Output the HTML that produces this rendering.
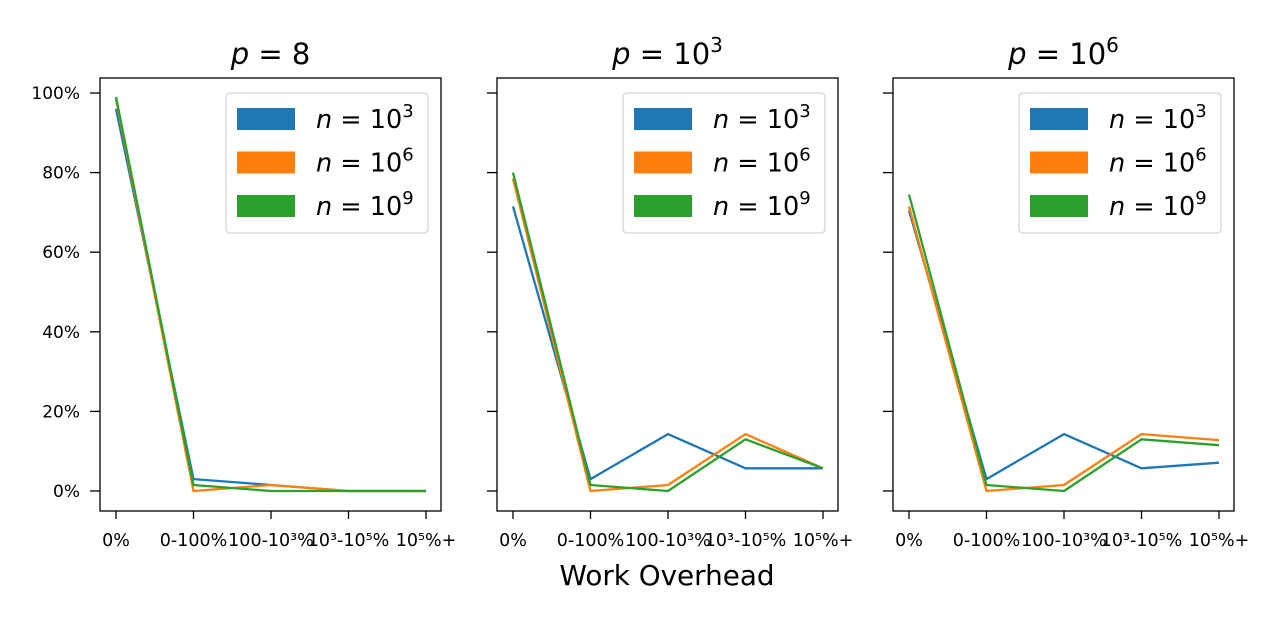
<!DOCTYPE html>
<html><head><meta charset="utf-8"><style>
body{margin:0;background:#fff;}
svg{display:block;font-family:"DejaVu Sans","Liberation Sans",sans-serif;}
</style></head><body>
<svg id="chart" width="1280" height="620" viewBox="0 0 1280 620" xmlns="http://www.w3.org/2000/svg"></svg>
<script>
const categories = ["0%", "0-100%", "100-10³%", "10³-10⁵%", "10⁵%+"];
const panelTitles = ["8", "10", "10"];
const panelTitleSup = ["", "3", "6"];
const seriesNames = ["3", "6", "9"];
const yTicks = [0, 20, 40, 60, 80, 100];
const p1Blue = [96, 3, 1.5, 0, 0];
const p1Orange = [98.5, 0, 1.5, 0, 0];
const p1Green = [99, 1.5, 0, 0, 0];
const p2Blue = [71.5, 3, 14.3, 5.7, 5.7];
const p2Orange = [78.5, 0, 1.5, 14.3, 5.7];
const p2Green = [80, 1.5, 0, 13, 5.7];
const p3Blue = [70.5, 3, 14.3, 5.7, 7.1];
const p3Orange = [71.5, 0, 1.5, 14.3, 12.8];
const p3Green = [74.5, 1.5, 0, 13, 11.5];
const panelData = [[p1Blue,p1Orange,p1Green],[p2Blue,p2Orange,p2Green],[p3Blue,p3Orange,p3Green]];
const colors = ["#1f77b4", "#ff7f0e", "#2ca02c"];

const svg = document.getElementById('chart');
const NS = "http://www.w3.org/2000/svg";
function mk(tag, attrs, parent){const e=document.createElementNS(NS,tag);for(const k in attrs)e.setAttribute(k,attrs[k]);(parent||svg).appendChild(e);return e;}
function span(parent, txt, attrs){const s=mk('tspan', attrs||{}, parent);s.textContent=txt;return s;}
const panelLeft = [100, 497, 893];
const panelW = 341, plotTop = 78, plotBottom = 511;
function yScale(v){return 491 - v*3.98;}

panelLeft.forEach((L, pi) => {
  const g = mk('g', {});
  
  
  const x0 = L + 16;
  const xScale = i => x0 + i*77.5;
  panelData[pi].forEach((vals, si) => {
    const d = vals.map((v,i)=>(i?'L':'M')+xScale(i).toFixed(1)+' '+yScale(v).toFixed(1)).join(' ');
    const p = mk('path', {d:d, fill:'none', stroke:colors[si], 'stroke-width':2.3, 'stroke-linejoin':'round'}, g);
    
    
  });
  const fr = mk('rect', {x:L, y:plotTop, width:panelW, height:plotBottom-plotTop, fill:'none', stroke:'#000', 'stroke-width':1.3}, g);
  
  
  categories.forEach((c, i) => {
    const x = xScale(i);
    mk('line', {x1:x, x2:x, y1:plotBottom, y2:plotBottom+8, stroke:'#000', 'stroke-width':1.3}, g);
    const t = mk('text', {x:x, y:546, 'font-size':17.5, 'text-anchor':'middle', fill:'#000'}, g);
    t.textContent = c;
    
    
  });
  yTicks.forEach(v => {
    const y = yScale(v);
    mk('line', {x1:L-10, x2:L, y1:y, y2:y, stroke:'#000', 'stroke-width':1.3}, g);
    if (pi === 0) {
      const t = mk('text', {x:L-20, y:y+6, 'font-size':17, 'text-anchor':'end', fill:'#000'}, g);
      t.textContent = v + '%';
      
      
    }
  });
  const tt = mk('text', {x:L+panelW/2, y:64, 'font-size':29, 'text-anchor':'middle', fill:'#000'}, g);
  
  
  span(tt, 'p', {'font-style':'italic'});
  span(tt, ' = ' + panelTitles[pi]);
  if (panelTitleSup[pi]) span(tt, panelTitleSup[pi], {'font-size':20, dy:-12});
  const lg = mk('g', {}, g);
  
  
  const lx = L + 126;
  mk('rect', {x:lx, y:93, width:202, height:140, rx:4, fill:'#fff', 'fill-opacity':0.8, stroke:'#d6d6d6', 'stroke-width':1.3}, lg);
  seriesNames.forEach((s, si) => {
    const yy = 108 + si*43.5;
    const e = mk('g', {}, lg);
    
    
    mk('rect', {x:lx+11, y:yy, width:58, height:22, fill:colors[si]}, e);
    const t = mk('text', {x:lx+90, y:yy+20, 'font-size':25.5, fill:'#000'}, e);
    span(t, 'n', {'font-style':'italic'});
    span(t, ' = 10');
    span(t, s, {'font-size':18, dy:-11});
  });
});
const xl = mk('text', {x:667, y:585, 'font-size':27.8, 'text-anchor':'middle', fill:'#000'});
xl.textContent = 'Work Overhead';


</script>
</body></html>
